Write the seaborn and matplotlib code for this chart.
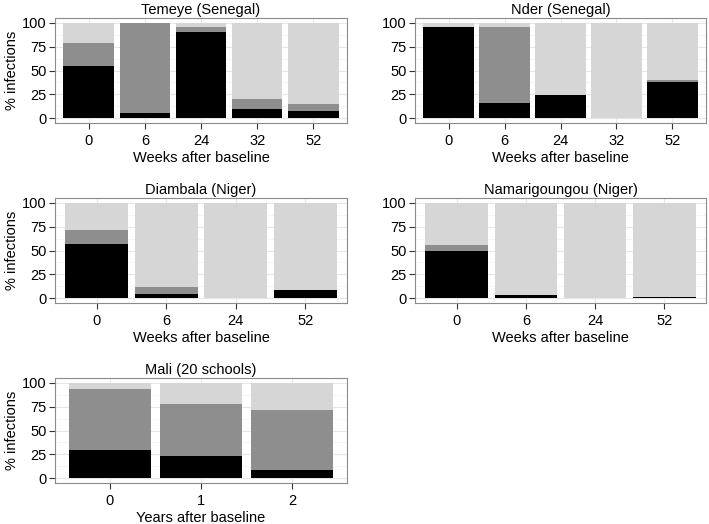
import matplotlib
matplotlib.use("Agg")
import matplotlib.pyplot as plt
from matplotlib.ticker import MultipleLocator
import pandas as pd
import seaborn as sns

# Data (% infections per survey)
weeks_5 = ["0", "6", "24", "32", "52"]
weeks_4 = ["0", "6", "24", "52"]
years_3 = ["0", "1", "2"]

temeye_black = [55, 6, 90, 10, 8]
temeye_grey = [24, 94, 6, 10, 7]
temeye_light = [21, 0, 4, 80, 85]

nder_black = [96, 16, 24, 0, 38]
nder_grey = [0, 80, 0, 0, 2]
nder_light = [4, 4, 76, 100, 60]

diambala_black = [57, 4, 0, 9]
diambala_grey = [15, 8, 0, 0]
diambala_light = [28, 88, 100, 91]

namari_black = [49, 3, 0, 1]
namari_grey = [7, 0, 0, 0]
namari_light = [44, 97, 100, 99]

mali_black = [30, 23, 9]
mali_grey = [64, 55, 63]
mali_light = [6, 22, 28]

panels = [
    ("Temeye (Senegal)", weeks_5, temeye_black, temeye_grey, temeye_light, "Weeks after baseline"),
    ("Nder (Senegal)", weeks_5, nder_black, nder_grey, nder_light, "Weeks after baseline"),
    ("Diambala (Niger)", weeks_4, diambala_black, diambala_grey, diambala_light, "Weeks after baseline"),
    ("Namarigoungou (Niger)", weeks_4, namari_black, namari_grey, namari_light, "Weeks after baseline"),
    ("Mali (20 schools)", years_3, mali_black, mali_grey, mali_light, "Years after baseline"),
]

sns.set_style("white")
plt.rcParams["font.family"] = ["Liberation Sans", "DejaVu Sans"]
plt.rcParams["font.size"] = 10.5
plt.rcParams["text.color"] = "black"
plt.rcParams["axes.labelcolor"] = "black"

fig = plt.figure(figsize=(7.09, 5.24), dpi=100)

W, H = 709, 524
boxes = [(55, 18, 347, 123), (415, 18, 706, 123),
         (55, 198, 347, 303), (415, 198, 706, 303),
         (55, 378, 347, 483)]

colors = ["#d6d6d6", "#8e8e8e", "#000000"]

for (title, cats, blk, gry, lgt, xlabel), (x0, y0, x1, y1) in zip(panels, boxes):
    ax = fig.add_axes([x0 / W, 1 - y1 / H, (x1 - x0) / W, (y1 - y0) / H])
    df = pd.DataFrame({"time": cats, "black": blk, "grey": gry, "light": lgt})
    df["top"] = df["black"] + df["grey"] + df["light"]
    df["mid"] = df["black"] + df["grey"]
    for col, c in zip(["top", "mid", "black"], colors):
        sns.barplot(data=df, x="time", y=col, order=cats, color=c, width=0.9,
                    saturation=1, edgecolor="none", linewidth=0, ax=ax, zorder=3)
    n = len(cats)
    ax.set_xlim(-0.6, n - 0.4)
    ax.set_ylim(-5, 105)
    ax.set_yticks([0, 25, 50, 75, 100])
    ax.yaxis.set_minor_locator(MultipleLocator(12.5))
    ax.grid(True, which="major", color="#e6e6e6", linewidth=0.8, zorder=0)
    ax.grid(True, which="minor", axis="y", color="#f4f4f4", linewidth=0.6, zorder=0)
    ax.set_axisbelow(True)
    ax.tick_params(which="major", length=4, width=0.8, color="#333333",
                   labelsize=10.5, labelcolor="black", pad=2, left=True, bottom=True)
    ax.tick_params(axis="x", which="major", pad=4)
    ax.tick_params(which="minor", length=0)
    for s in ax.spines.values():
        s.set_visible(True)
        s.set_color("#8c8c8c")
        s.set_linewidth(0.8)
    ax.set_title(title, fontsize=10.5, pad=3)
    ax.set_xlabel(xlabel, fontsize=10.5, labelpad=2)
    if x0 < 100:
        ax.set_ylabel("% infections", fontsize=10.5, labelpad=2)
    else:
        ax.set_ylabel("")

fig.savefig("out.png", dpi=100)
